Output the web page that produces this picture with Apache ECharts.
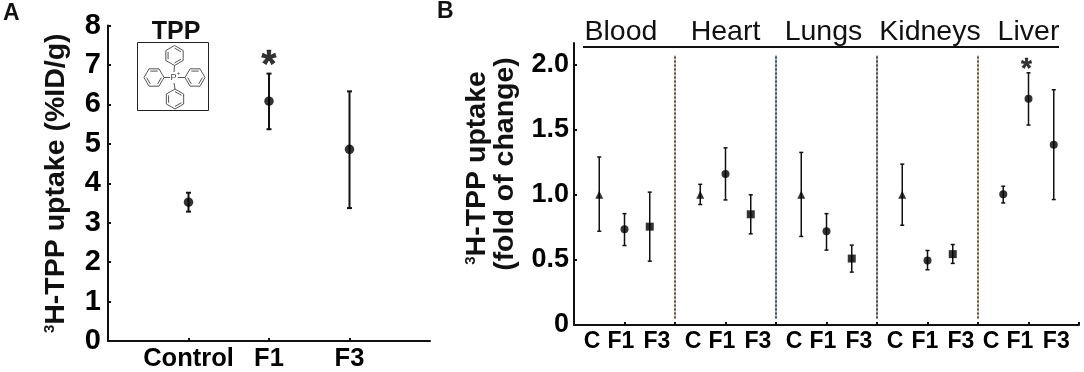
<!DOCTYPE html>
<html><head><meta charset="utf-8">
<style>html,body{margin:0;padding:0;background:#fff}#c{width:1084px;height:372px}</style>
<script src="https://cdn.jsdelivr.net/npm/echarts@6/dist/echarts.min.js"></script>
</head><body><div id="c"></div>
<script>
// Panel A
const aCategories = ['', 'Control', 'F1', 'F3', ''];
const aMeans = [3.52, 6.08, 4.86];
const aLows  = [3.28, 5.37, 3.37];
const aHighs = [3.76, 6.78, 6.33];
const aYTicks = [0,1,2,3,4,5,6,7,8];

// Panel B
const organs = ['Blood','Heart','Lungs','Kidneys','Liver'];
const groups = ['C','F1','F3'];
const bMeans = [1.0,0.735,0.755, 1.0,1.16,0.85, 1.0,0.72,0.51, 1.0,0.495,0.544, 1.004,1.737,1.384];
const bLows  = [0.72,0.61,0.49, 0.925,0.96,0.70, 0.68,0.575,0.406, 0.766,0.424,0.473, 0.937,1.535,0.963];
const bHighs = [1.29,0.855,1.02, 1.08,1.36,1.0, 1.325,0.855,0.613, 1.235,0.572,0.618, 1.065,1.936,1.806];
const bSymbols = ['triangle','circle','rect','triangle','circle','rect','triangle','circle','rect','triangle','circle','rect','circle','circle','circle'];
const bYTicks = [0,0.5,1,1.5,2];
const bPointX = [0.5,1,1.5, 2.5,3,3.5, 4.5,5,5.5, 6.5,7,7.5, 8.5,9,9.5];
const bGroupLabelX = [0.356,0.93,1.64, 2.356,2.93,3.64, 4.356,4.93,5.64, 6.356,6.95,7.66, 8.26,8.83,9.55];
const organLabelX = [0.93,3,4.94,7.05,9];
const sepX = [2,4,6,8];
const sepTint = ['#e0903a','#3f78c8','#777777','#d8a050'];

const FONT = '"Liberation Sans", Arial, sans-serif';

function errRender(lw, cap) {
  return function (params, api) {
    const x = api.value(0);
    const a = api.coord([x, api.value(1)]);
    const b = api.coord([x, api.value(2)]);
    const st = {stroke:'#111', lineWidth:lw};
    return {type:'group', children:[
      {type:'line', shape:{x1:a[0],y1:a[1],x2:b[0],y2:b[1]}, style:st},
      {type:'line', shape:{x1:a[0]-cap,y1:a[1],x2:a[0]+cap,y2:a[1]}, style:st},
      {type:'line', shape:{x1:b[0]-cap,y1:b[1],x2:b[0]+cap,y2:b[1]}, style:st}
    ]};
  };
}

const nameRich = {
  sup:{fontSize:15,fontWeight:'bold',fontFamily:FONT,color:'#111',verticalAlign:'top',lineHeight:28},
  b:{fontSize:28.5,fontWeight:'bold',fontFamily:FONT,color:'#111',lineHeight:28}
};

// Molecule drawing inside the inset box
function hexagon(cx, cy, r, startDeg) {
  const pts = [];
  for (let i = 0; i < 6; i++) {
    const t = (startDeg + i * 60) * Math.PI / 180;
    pts.push([cx + r * Math.cos(t), cy + r * Math.sin(t)]);
  }
  return pts;
}
const MOL = {stroke:'#555', lineWidth:1, fill:'none'};
function ring(cx, cy, start) {
  const o = hexagon(cx, cy, 10, start), n = hexagon(cx, cy, 7.4, start);
  const els = [{type:'polygon', shape:{points:o}, style:MOL}];
  [0,2,4].forEach(i => els.push({type:'line', shape:{x1:n[i][0],y1:n[i][1],x2:n[i+1][0],y2:n[i+1][1]}, style:MOL}));
  return els;
}
const bond = (x1,y1,x2,y2) => ({type:'line', shape:{x1,y1,x2,y2}, style:MOL});
const molecule = [
  {type:'rect', shape:{x:137.5,y:42.5,width:71,height:68}, style:{stroke:'#222',lineWidth:1,fill:'#fff'}},
  ...ring(174.5,55.5,30), ...ring(175,99,30), ...ring(154,77.5,0), ...ring(195,77.5,0),
  bond(174.5,65.5,174,72), bond(174,83,175,89), bond(164,77.5,170,77.5), bond(178,77.5,185,77.5),
  {type:'text', x:173.5, y:77.5, style:{text:'P', fontSize:9, fontFamily:FONT, fill:'#444', align:'center', verticalAlign:'middle'}},
  {type:'text', x:178.5, y:73, style:{text:'+', fontSize:6, fontFamily:FONT, fill:'#444', align:'center', verticalAlign:'middle'}},
  {type:'text', x:176, y:32, style:{text:'TPP', fontSize:25, fontWeight:'bold', fontFamily:FONT, fill:'#111', align:'center', verticalAlign:'middle'}},
  {type:'text', x:3, y:14, style:{text:'A', fontSize:23, fontWeight:'bold', fontFamily:FONT, fill:'#111', align:'left', verticalAlign:'middle'}},
  {type:'text', x:437, y:12, style:{text:'B', fontSize:23, fontWeight:'bold', fontFamily:FONT, fill:'#111', align:'left', verticalAlign:'middle'}},
  {type:'line', shape:{x1:583,y1:47,x2:1059,y2:47}, style:{stroke:'#111',lineWidth:2}}
];

const axisL = {show:true, onZero:false, lineStyle:{color:'#111',width:2}};
const tick = {show:true, inside:true, length:3, lineStyle:{color:'#111',width:2}};

const sepSeries = [];
sepX.forEach((x,i) => {
  const d = [[x,0.05],[x,2.07]];
  sepSeries.push({type:'line', xAxisIndex:1, yAxisIndex:1, data:d, symbol:'none', silent:true, z:1,
    lineStyle:{color:sepTint[i], width:1}});
  sepSeries.push({type:'line', xAxisIndex:1, yAxisIndex:1, data:d, symbol:'none', silent:true, z:2,
    lineStyle:{color:'#1a1a2a', width:1.4, type:[2,2]}});
});

const option = {
  animation:false,
  backgroundColor:'#fff',
  grid:[
    {left:108, top:25.5, width:322, height:316.5},
    {left:574, top:43, width:505, height:282}
  ],
  xAxis:[
    {gridIndex:0, type:'category', data:aCategories, boundaryGap:false,
     axisLine:axisL, axisTick:{...tick, interval:(i,v)=>v!==''},
     axisLabel:{interval:0, margin:5, fontSize:25.5, fontWeight:'bold', fontFamily:FONT, color:'#000'}},
    {gridIndex:1, type:'value', min:0, max:10, interval:1, splitLine:{show:false},
     axisLine:axisL, axisTick:tick,
     axisLabel:{customValues:bGroupLabelX, margin:5, fontSize:23, fontWeight:'bold', fontFamily:FONT, color:'#000',
       formatter:v=>groups[bGroupLabelX.indexOf(v)%3]}},
    {gridIndex:1, type:'value', position:'top', min:0, max:10, splitLine:{show:false},
     axisLine:{show:false}, axisTick:{show:false},
     axisLabel:{customValues:organLabelX, margin:-3.5, fontSize:28.5, fontFamily:FONT, color:'#111',
       formatter:v=>organs[organLabelX.indexOf(v)]}}
  ],
  yAxis:[
    {gridIndex:0, type:'value', min:0, max:8, splitLine:{show:false},
     axisLine:axisL, axisTick:{...tick, length:3, customValues:aYTicks},
     axisLabel:{customValues:aYTicks, margin:7, fontSize:29, fontWeight:'bold', fontFamily:FONT, color:'#000'},
     name:'{sup|3}{b|H-TPP uptake (%ID/g)}', nameLocation:'middle', nameRotate:90, nameGap:38,
     nameTextStyle:{rich:nameRich}},
    {gridIndex:1, type:'value', min:0, max:2.165, splitLine:{show:false},
     axisLine:axisL, axisTick:{...tick, customValues:bYTicks},
     axisLabel:{customValues:bYTicks, margin:5, fontSize:27, fontWeight:'bold', fontFamily:FONT, color:'#000',
       formatter:v=>v===0?'0':v.toFixed(1)},
     name:'{sup|3}{b|H-TPP uptake\u00a0}\n{b|(fold of change)}', nameLocation:'middle', nameRotate:90, nameGap:55,
     nameTextStyle:{rich:nameRich, align:'center', padding:[0,0,0,40]}}
  ],
  series:[
    {type:'custom', xAxisIndex:0, yAxisIndex:0, renderItem:errRender(2,2.5), encode:{x:0,y:[1,2]}, z:3,
     data:aMeans.map((_,i)=>[i+1,aLows[i],aHighs[i]])},
    {type:'scatter', xAxisIndex:0, yAxisIndex:0, symbol:'circle', symbolSize:9.5, z:4, itemStyle:{color:'#000'},
     data:aMeans.map((m,i)=>[i+1,m])},
    {type:'scatter', xAxisIndex:0, yAxisIndex:0, symbolSize:1, z:4, itemStyle:{color:'transparent'},
     data:[[2,6.95]], label:{show:true, position:'inside', formatter:'*', fontSize:38, fontWeight:'bold', fontFamily:FONT, color:'#000', textBorderColor:'#000', textBorderWidth:0.6}},
    {type:'custom', xAxisIndex:1, yAxisIndex:1, renderItem:errRender(1.5,2), encode:{x:0,y:[1,2]}, z:3,
     data:bMeans.map((_,i)=>[bPointX[i],bLows[i],bHighs[i]])},
    {type:'scatter', xAxisIndex:1, yAxisIndex:1, z:4, itemStyle:{color:'#000'}, symbolSize:8,
     data:bMeans.map((m,i)=>({value:[bPointX[i],m], symbol:bSymbols[i]}))},
    {type:'scatter', xAxisIndex:1, yAxisIndex:1, symbolSize:1, z:4, itemStyle:{color:'transparent'},
     data:[[8.96,1.96]], label:{show:true, position:'inside', formatter:'*', fontSize:28, fontWeight:'bold', fontFamily:FONT, color:'#000', textBorderColor:'#000', textBorderWidth:0.4}},
    ...sepSeries
  ],
  graphic:{elements:molecule}
};
echarts.init(document.getElementById('c'),null,{renderer:'canvas'}).setOption(option);
</script></body></html>
